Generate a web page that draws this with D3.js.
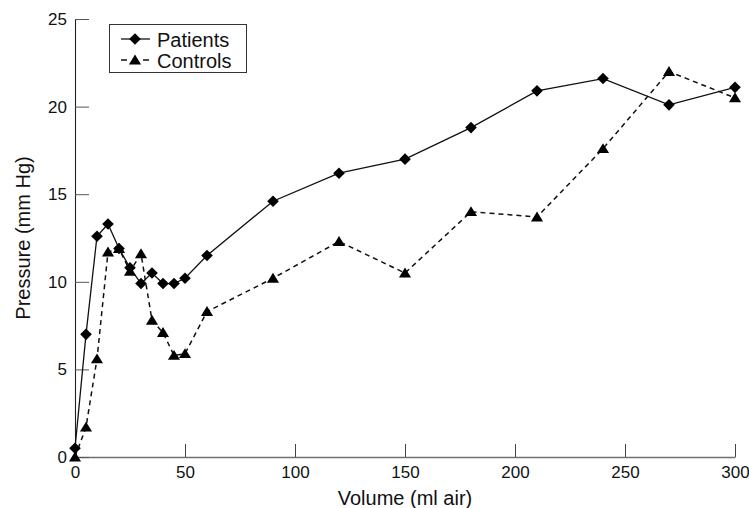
<!DOCTYPE html>
<html>
<head>
<meta charset="utf-8">
<script src="https://cdn.jsdelivr.net/npm/d3@7"></script>
<style>
  body { margin: 0; background: #fff; }
  svg { display: block; font-family: 'Liberation Sans', Arial, sans-serif; }
</style>
</head>
<body>
<div id="root"></div>
<script>
// Volume (ml air) steps and the two pressure series
const volumes = [0, 5, 10, 15, 20, 25, 30, 35, 40, 45, 50, 60, 90, 120, 150, 180, 210, 240, 270, 300];
const patients = [0.5, 7.0, 12.6, 13.3, 11.9, 10.8, 9.9, 10.5, 9.9, 9.9, 10.2, 11.5, 14.6, 16.2, 17.0, 18.8, 20.9, 21.6, 20.1, 21.1];
const controls = [0, 1.7, 5.6, 11.7, 11.9, 10.6, 11.6, 7.8, 7.1, 5.8, 5.9, 8.3, 10.2, 12.3, 10.5, 14.0, 13.7, 17.6, 22.0, 20.5];
const xTicks = [0, 50, 100, 150, 200, 250, 300];
const yTicks = [0, 5, 10, 15, 20, 25];
const seriesNames = ['Patients', 'Controls'];

const width = 749;
const height = 508;
const plot = { left: 75, right: 735, top: 19, bottom: 457 };

const svg = d3.select('#root')
  .append('svg')
  .attr('width', width)
  .attr('height', height);

const x = d3.scaleLinear().domain([0, 300]).range([plot.left, plot.right]);
const y = d3.scaleLinear().domain([0, 25]).range([plot.bottom, plot.top]);

// markers: a square diamond and a filled triangle
const diamond = r => `M0,${-r}L${r},0L0,${r}L${-r},0Z`;
const triangle = r => `M0,${-r}L${r * 1.1},${r * 0.8}L${-r * 1.1},${r * 0.8}Z`;

// axes, ticks point inwards
const xAxis = svg.append('g')
  .attr('transform', `translate(0,${plot.bottom})`)
  .call(d3.axisBottom(x).tickValues(xTicks).tickSizeInner(-13).tickSizeOuter(0).tickPadding(9));
xAxis.select('.domain').attr('stroke', '#707070').attr('stroke-width', 1.3);
xAxis.selectAll('.tick line').attr('stroke', '#444');
xAxis.selectAll('text').attr('font-size', 17).attr('fill', '#111');

const yAxis = svg.append('g')
  .attr('transform', `translate(${plot.left},0)`)
  .call(d3.axisLeft(y).tickValues(yTicks).tickSizeInner(-14).tickSizeOuter(0).tickPadding(8));
yAxis.select('.domain').attr('stroke', '#222').attr('stroke-width', 1.1);
yAxis.selectAll('.tick line').attr('stroke', '#555');
yAxis.selectAll('text').attr('font-size', 17).attr('fill', '#111');

svg.append('text')
  .attr('x', (plot.left + plot.right) / 2)
  .attr('y', 505)
  .attr('text-anchor', 'middle')
  .attr('font-size', 20)
  .attr('fill', '#111')
  .text('Volume (ml air)');

svg.append('text')
  .attr('transform', `translate(30,${(plot.top + plot.bottom) / 2}) rotate(-90)`)
  .attr('text-anchor', 'middle')
  .attr('font-size', 20)
  .attr('fill', '#111')
  .text('Pressure (mm Hg)');

const line = d3.line()
  .x(d => x(d[0]))
  .y(d => y(d[1]));

const patientPts = volumes.map((v, i) => [v, patients[i]]);
const controlPts = volumes.map((v, i) => [v, controls[i]]);

svg.append('path')
  .datum(controlPts)
  .attr('fill', 'none')
  .attr('stroke', '#111')
  .attr('stroke-width', 1.5)
  .attr('stroke-dasharray', '5,4')
  .attr('d', line);

svg.append('path')
  .datum(patientPts)
  .attr('fill', 'none')
  .attr('stroke', '#111')
  .attr('stroke-width', 1.3)
  .attr('d', line);

svg.append('g').selectAll('path')
  .data(controlPts)
  .join('path')
  .attr('transform', d => `translate(${x(d[0])},${y(d[1])})`)
  .attr('d', triangle(5.5))
  .attr('fill', '#000');

svg.append('g').selectAll('path')
  .data(patientPts)
  .join('path')
  .attr('transform', d => `translate(${x(d[0])},${y(d[1])})`)
  .attr('d', diamond(5.8))
  .attr('fill', '#000');

// legend box
const legend = svg.append('g');
legend.append('rect')
  .attr('x', 109.5)
  .attr('y', 24.5)
  .attr('width', 137)
  .attr('height', 48)
  .attr('fill', '#fff')
  .attr('stroke', '#333');

seriesNames.forEach((name, i) => {
  const cy = 39 + i * 21;
  const row = legend.append('g');
  // solid sample for patients, two short dashes either side for controls
  const segs = i ? [[121, 127], [143, 149]] : [[121, 150]];
  segs.forEach(s => {
    row.append('line')
      .attr('x1', s[0]).attr('x2', s[1])
      .attr('y1', cy).attr('y2', cy)
      .attr('stroke', '#111')
      .attr('stroke-width', i ? 1.5 : 1.3);
  });
  row.append('path')
    .attr('transform', `translate(135,${cy})`)
    .attr('d', i ? triangle(5.5) : diamond(5.8))
    .attr('fill', '#000');
  row.append('text')
    .attr('x', 157)
    .attr('y', cy + 7.5)
    .attr('font-size', 20)
    .attr('fill', '#111')
    .text(name);
});
</script>
</body>
</html>
